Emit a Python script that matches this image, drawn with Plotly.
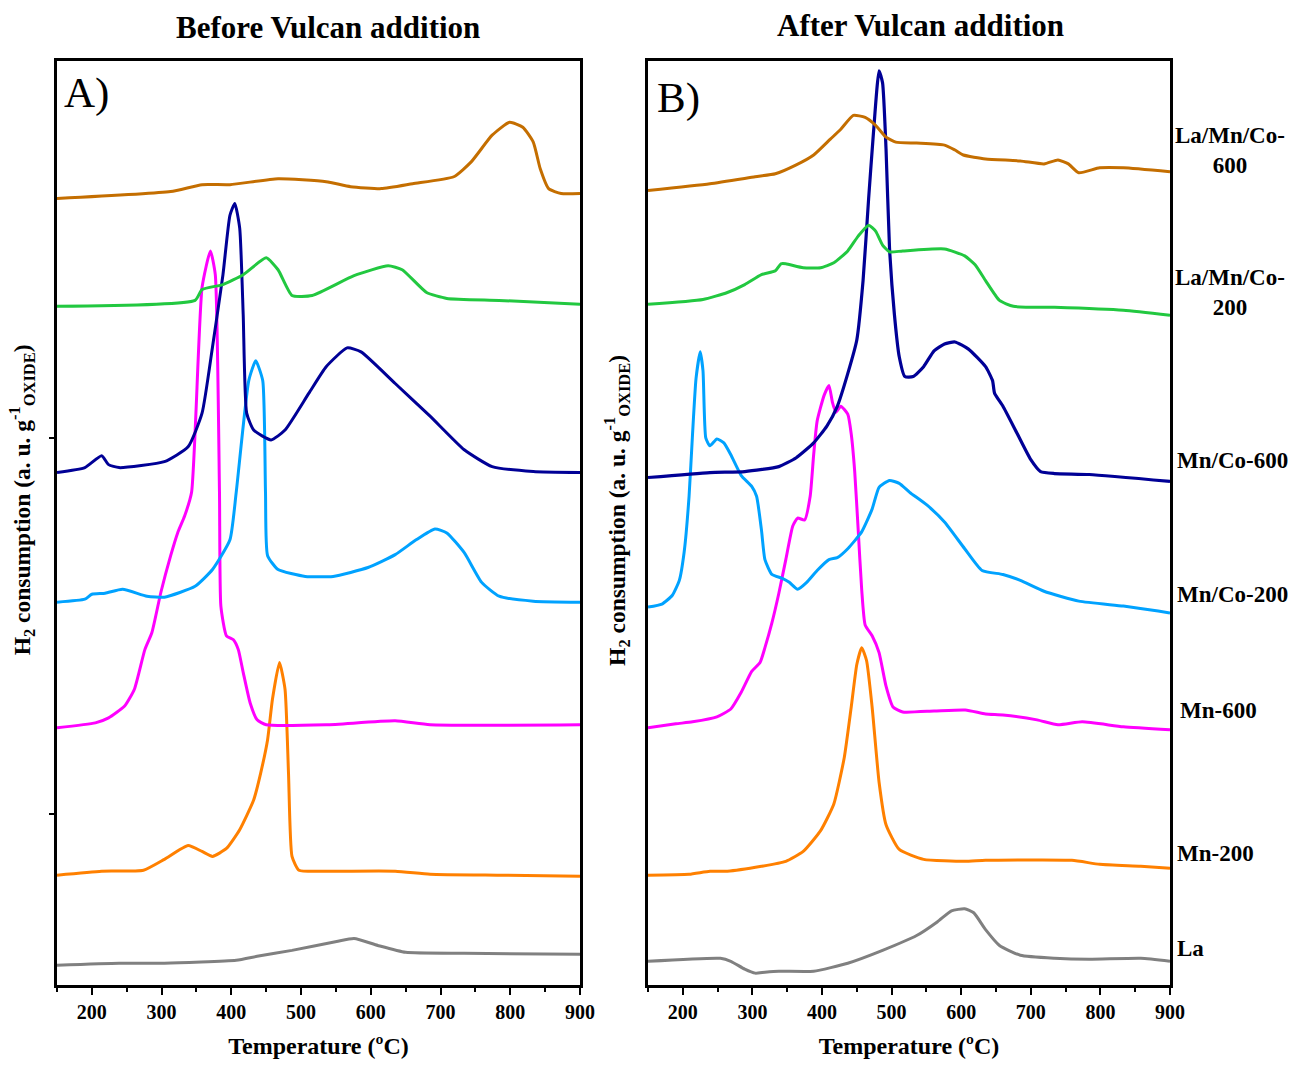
import plotly.graph_objects as go

# ---------------- Data (Temperature in ºC, H2 consumption in arbitrary units, stacked) ----------------
# Panel A) Before Vulcan addition
A_La_T = [150, 239, 304, 407, 437, 487, 551, 576, 610, 650, 734, 900]
A_La_Y = [20, 22, 22, 25, 29, 35, 44, 47, 40, 33, 32, 31]

A_Mn200_T = [150, 214, 274, 304, 338, 358, 373, 393, 412, 432, 442, 452, 459, 469, 477, 482, 487, 497, 536, 635, 685, 784, 900]
A_Mn200_Y = [111, 115, 116, 127, 141, 135, 130, 138, 157, 187, 214, 248, 289, 326, 299, 214, 130, 116, 115, 115, 112, 111, 110]

A_Mn600_T = [150, 205, 224, 247, 261, 276, 286, 299, 313, 323, 333, 343, 358, 370, 377, 383, 385, 393, 403, 410, 417, 427, 437, 450, 536, 635, 685, 900]
A_Mn600_Y = [260, 265, 270, 282, 299, 339, 356, 397, 434, 457, 474, 498, 705, 742, 718, 498, 383, 353, 349, 339, 316, 285, 268, 263, 263, 267, 263, 263]

A_MnCo200_T = [150, 190, 200, 219, 244, 279, 304, 348, 373, 398, 407, 425, 435, 445, 449, 452, 467, 506, 546, 596, 635, 665, 692, 709, 734, 759, 784, 833, 900]
A_MnCo200_Y = [387, 390, 395, 396, 400, 393, 392, 403, 420, 450, 498, 611, 631, 611, 498, 434, 420, 413, 413, 422, 435, 450, 461, 457, 437, 407, 393, 388, 387]

A_MnCo600_T = [150, 190, 214, 224, 239, 304, 338, 358, 373, 388, 398, 405, 412, 417, 422, 432, 457, 477, 511, 536, 566, 586, 635, 685, 734, 774, 833, 900]
A_MnCo600_Y = [518, 523, 535, 526, 523, 529, 544, 578, 645, 718, 778, 790, 765, 678, 578, 561, 551, 561, 598, 625, 644, 640, 608, 575, 541, 524, 519, 518]

A_LaMnCo200_T = [150, 348, 358, 388, 417, 450, 467, 487, 516, 576, 625, 645, 680, 709, 784, 900]
A_LaMnCo200_Y = [686, 692, 703, 708, 718, 735, 723, 697, 697, 717, 727, 723, 700, 694, 692, 688]

A_LaMnCo600_T = [150, 313, 358, 398, 467, 536, 571, 615, 660, 719, 744, 774, 799, 818, 833, 843, 855, 873, 900]
A_LaMnCo600_Y = [795, 802, 809, 809, 815, 812, 807, 805, 810, 817, 832, 859, 872, 867, 852, 825, 805, 800, 800]

# Panel B) After Vulcan addition
B_La_T = [150, 254, 269, 289, 304, 318, 338, 388, 437, 487, 536, 566, 586, 605, 618, 635, 655, 685, 734, 784, 858, 900]
B_La_Y = [24, 27, 24, 16, 12, 13, 14, 14, 22, 35, 50, 64, 75, 77, 73, 56, 40, 30, 27, 26, 27, 24]

B_Mn200_T = [150, 209, 239, 264, 313, 348, 373, 398, 417, 432, 442, 450, 457, 464, 472, 482, 492, 511, 546, 605, 635, 759, 799, 858, 900]
B_Mn200_Y = [111, 112, 115, 115, 120, 125, 135, 156, 183, 230, 281, 324, 341, 328, 281, 205, 162, 137, 127, 125, 126, 126, 122, 120, 118]

B_Mn600_T = [150, 190, 214, 249, 269, 284, 299, 311, 318, 328, 338, 348, 358, 365, 375, 383, 388, 393, 403, 410, 415, 420, 427, 437, 442, 447, 452, 457, 462, 472, 482, 492, 502, 516, 561, 606, 635, 660, 709, 739, 774, 833, 900]
B_Mn600_Y = [260, 264, 266, 271, 279, 296, 317, 326, 341, 366, 396, 430, 464, 472, 470, 494, 536, 570, 596, 606, 589, 579, 585, 577, 557, 519, 460, 400, 364, 353, 336, 302, 281, 276, 277, 278, 274, 273, 268, 263, 266, 261, 258]

B_MnCo200_T = [150, 170, 185, 195, 202, 209, 214, 219, 225, 229, 233, 239, 249, 259, 269, 284, 299, 306, 313, 318, 328, 343, 353, 365, 378, 393, 410, 422, 437, 457, 472, 482, 497, 511, 526, 551, 576, 605, 630, 660, 685, 719, 769, 833, 883, 900]
B_MnCo200_Y = [382, 385, 394, 409, 438, 494, 557, 613, 640, 621, 553, 545, 552, 548, 536, 515, 504, 494, 460, 430, 415, 411, 407, 400, 407, 419, 430, 432, 441, 458, 481, 503, 510, 507, 498, 485, 468, 441, 419, 415, 409, 398, 388, 383, 378, 376]

B_MnCo600_T = [150, 239, 289, 338, 363, 388, 407, 422, 437, 450, 459, 467, 474, 482, 487, 492, 497, 504, 511, 519, 531, 546, 561, 576, 591, 610, 635, 645, 648, 660, 680, 700, 714, 734, 784, 900]
B_MnCo600_Y = [513, 518, 519, 524, 533, 548, 565, 585, 618, 652, 712, 795, 862, 924, 912, 845, 745, 678, 635, 615, 615, 625, 641, 648, 650, 643, 625, 611, 598, 585, 558, 531, 519, 517, 516, 509]

B_LaMnCo200_T = [150, 229, 264, 289, 313, 333, 341, 348, 373, 398, 417, 437, 452, 467, 477, 487, 497, 516, 576, 605, 620, 635, 655, 675, 734, 833, 900]
B_LaMnCo200_Y = [688, 693, 700, 708, 718, 722, 729, 729, 725, 725, 730, 742, 757, 768, 762, 748, 741, 742, 744, 737, 728, 712, 692, 686, 685, 682, 677]

B_LaMnCo600_T = [150, 239, 304, 333, 363, 388, 412, 427, 445, 462, 477, 492, 506, 536, 576, 591, 603, 635, 685, 719, 739, 754, 769, 799, 833, 900]
B_LaMnCo600_Y = [803, 810, 817, 820, 829, 839, 855, 865, 879, 877, 869, 857, 852, 851, 849, 844, 839, 835, 833, 830, 834, 830, 821, 826, 826, 822]

SAMPLES = ["La", "Mn-200", "Mn-600", "Mn/Co-200", "Mn/Co-600", "La/Mn/Co-200", "La/Mn/Co-600"]
COLORS = ["#808080", "#FF8000", "#FF00FF", "#00A2FF", "#000096", "#22C840", "#C46E00"]

PANEL_A = [(A_La_T, A_La_Y), (A_Mn200_T, A_Mn200_Y), (A_Mn600_T, A_Mn600_Y), (A_MnCo200_T, A_MnCo200_Y),
           (A_MnCo600_T, A_MnCo600_Y), (A_LaMnCo200_T, A_LaMnCo200_Y), (A_LaMnCo600_T, A_LaMnCo600_Y)]
PANEL_B = [(B_La_T, B_La_Y), (B_Mn200_T, B_Mn200_Y), (B_Mn600_T, B_Mn600_Y), (B_MnCo200_T, B_MnCo200_Y),
           (B_MnCo600_T, B_MnCo600_Y), (B_LaMnCo200_T, B_LaMnCo200_Y), (B_LaMnCo600_T, B_LaMnCo600_Y)]

LEFT_YTICKS = [173, 553]

# ---------------- Figure ----------------
SERIF = "Liberation Serif"
fig = go.Figure()

for (t, y), name, col in zip(PANEL_A, SAMPLES, COLORS):
    fig.add_trace(go.Scatter(x=t, y=y, mode="lines", name=name, xaxis="x", yaxis="y",
                             line=dict(color=col, width=3, shape="spline", smoothing=0.5),
                             showlegend=False))
for (t, y), name, col in zip(PANEL_B, SAMPLES, COLORS):
    fig.add_trace(go.Scatter(x=t, y=y, mode="lines", name=name, xaxis="x2", yaxis="y2",
                             line=dict(color=col, width=3.2 if name == "Mn/Co-600" else 3,
                                       shape="spline", smoothing=0.5),
                             showlegend=False))

xcommon = dict(range=[150, 900], showline=True, linewidth=2.5, linecolor="black", mirror=True,
               ticks="outside", ticklen=7, tickwidth=2, tickcolor="black", dtick=100, tick0=0,
               minor=dict(ticks="outside", ticklen=4, tickwidth=2, tickcolor="black", dtick=50, tick0=0),
               showgrid=False, zeroline=False,
               tickfont=dict(family=SERIF, size=20, color="black", weight="bold"),
               title=dict(text="Temperature (ºC)", font=dict(family=SERIF, size=24, color="black", weight="bold"),
                          standoff=16))
ycommon = dict(range=[0, 934], showline=True, linewidth=2.5, linecolor="black", mirror=True,
               showgrid=False, zeroline=False, showticklabels=False)

fig.update_layout(
    width=1292, height=1068,
    margin=dict(l=57, r=122, t=61, b=65),
    paper_bgcolor="white", plot_bgcolor="white",
    xaxis=dict(domain=[0, 0.4699], **xcommon),
    xaxis2=dict(domain=[0.531, 1.0], anchor="y2", **xcommon),
    yaxis=dict(domain=[0, 1], tickmode="array", tickvals=LEFT_YTICKS, ticks="outside", ticklen=5,
               tickwidth=2, tickcolor="black", **ycommon),
    yaxis2=dict(domain=[0, 1], anchor="x2", ticks="", **ycommon),
)

ann = []
bold = dict(family=SERIF, color="black", weight="bold")
ann.append(dict(text="Before Vulcan addition", x=0.2435, y=1.0364, xref="paper", yref="paper",
                showarrow=False, font=dict(size=31, **bold), xanchor="center", yanchor="middle"))
ann.append(dict(text="After Vulcan addition", x=0.7754, y=1.0385, xref="paper", yref="paper",
                showarrow=False, font=dict(size=31, **bold), xanchor="center", yanchor="middle"))
ann.append(dict(text="A)", x=0.0045, y=0.9657, xref="paper", yref="paper", showarrow=False,
                font=dict(family=SERIF, size=43, color="black"), xanchor="left", yanchor="middle"))
ann.append(dict(text="B)", x=0.537, y=0.9604, xref="paper", yref="paper", showarrow=False,
                font=dict(family=SERIF, size=43, color="black"), xanchor="left", yanchor="middle"))
ytitle = "H<sub>2</sub> consumption (a. u. g<sup>-1</sup><sub>OXIDE</sub>)"
ann.append(dict(text=ytitle, x=-0.0314, y=0.5246, xref="paper", yref="paper", showarrow=False,
                textangle=-90, font=dict(size=23.5, **bold), xanchor="center", yanchor="middle"))
ann.append(dict(text=ytitle, x=0.503, y=0.514, xref="paper", yref="paper", showarrow=False,
                textangle=-90, font=dict(size=23.5, **bold), xanchor="center", yanchor="middle"))

# sample labels on the right of panel B
LABELS = [("La/Mn/Co-<br>600", 1.054, 0.9026, "center"),
          ("La/Mn/Co-<br>200", 1.054, 0.7495, "center"),
          ("Mn/Co-600", 1.0045, 0.5675, "left"),
          ("Mn/Co-200", 1.0045, 0.4229, "left"),
          ("Mn-600", 1.0072, 0.2966, "left"),
          ("Mn-200", 1.0045, 0.1424, "left"),
          ("La", 1.0045, 0.0396, "left")]
for txt, x, y, xa in LABELS:
    ann.append(dict(text=txt, x=x, y=y, xref="paper", yref="paper", showarrow=False,
                    font=dict(size=23, **bold), xanchor=xa, yanchor="middle", align="center"))

fig.update_layout(annotations=ann)
# remove the browser's default page margin so the 1292x1068 figure fills the window exactly
fig.write_html("out.html", config={"displayModeBar": False},
               post_script="document.documentElement.style.overflow='hidden';"
                           "document.body.style.margin='0';document.body.style.overflow='hidden';")
